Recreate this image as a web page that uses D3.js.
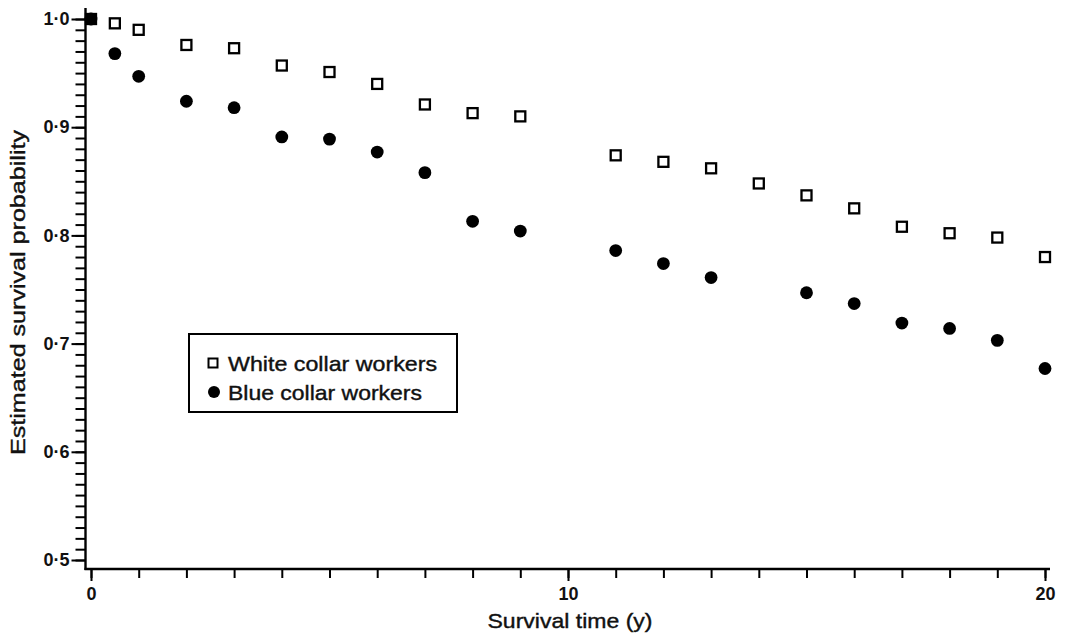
<!DOCTYPE html>
<html><head><meta charset="utf-8">
<script src="https://cdn.jsdelivr.net/npm/d3@7"></script>
<style>body{margin:0;background:#fff}</style>
</head><body><svg id="c" width="1066" height="636"></svg>
<script>
const whiteYears = [0,0.5,1,2,3,4,5,6,7,8,9,11,12,13,14,15,16,17,18,19,20];
const whiteSurvival = [1.0,0.996,0.990,0.976,0.973,0.957,0.951,0.940,0.921,0.913,0.910,0.874,0.868,0.862,0.848,0.837,0.825,0.808,0.802,0.798,0.780];
const blueYears = [0,0.5,1,2,3,4,5,6,7,8,9,11,12,13,15,16,17,18,19,20];
const blueSurvival = [1.0,0.968,0.947,0.924,0.918,0.891,0.889,0.877,0.858,0.813,0.804,0.786,0.774,0.761,0.747,0.737,0.719,0.714,0.703,0.677];
const xTickValues = [0,10,20];
const xMinorTicks = d3.range(0,21,1);
const yTickValues = [0.5,0.6,0.7,0.8,0.9,1.0];
const yMinorTicks = d3.range(50,101,1).map(d=>d/100);
const legendLabels = ["White collar workers","Blue collar workers"];
const xTitle = "Survival time (y)";
const yTitle = "Estimated survival probability";

const svg = d3.select("#c");
const font = "'Liberation Sans', Arial, Helvetica, sans-serif";
const x = d3.scaleLinear().domain([0,20]).range([91,1045]);
const y = d3.scaleLinear().domain([0.5,1.0]).range([560,19]);
const axisX = 85.5, axisY = 569;
const fmt = d => d3.format(".1f")(d).replace(".", "\u00B7");

// y axis
const gy = svg.append("g").attr("transform",`translate(${axisX},0)`);
gy.append("g").call(d3.axisLeft(y).tickValues(yMinorTicks).tickSize(10).tickFormat("").tickSizeOuter(0))
  .call(g=>g.select(".domain").remove());
gy.append("g").call(d3.axisLeft(y).tickValues(yTickValues).tickSize(14).tickPadding(2).tickFormat(fmt).tickSizeOuter(0))
  .call(g=>g.select(".domain").remove());
gy.append("line").attr("x1",0).attr("x2",0).attr("y1",8).attr("y2",axisY+1).attr("stroke","#000").attr("stroke-width",2.4);

// x axis
const gx = svg.append("g").attr("transform",`translate(0,${axisY})`);
gx.append("g").call(d3.axisBottom(x).tickValues(xMinorTicks).tickSize(9).tickFormat("").tickSizeOuter(0))
  .call(g=>g.select(".domain").remove());
gx.append("g").call(d3.axisBottom(x).tickValues(xTickValues).tickSize(12).tickPadding(6).tickFormat(d3.format("d")).tickSizeOuter(0))
  .call(g=>g.select(".domain").remove());
gx.append("line").attr("x1",axisX-1).attr("x2",1050).attr("y1",0).attr("y2",0).attr("stroke","#000").attr("stroke-width",2.4);

svg.selectAll(".tick line").attr("stroke","#000").attr("stroke-width",2);
svg.selectAll(".tick text").attr("font-family",font).attr("font-size",18).attr("font-weight","bold").attr("fill","#111");

// titles
svg.append("text").attr("x",570).attr("y",628).attr("text-anchor","middle")
  .attr("font-family",font).attr("font-size",21).attr("fill","#111").attr("stroke","#111").attr("stroke-width",0.4)
  .attr("textLength",165).attr("lengthAdjust","spacingAndGlyphs").text(xTitle);
svg.append("text").attr("transform","translate(25,292.5) rotate(-90)").attr("text-anchor","middle")
  .attr("font-family",font).attr("font-size",21).attr("fill","#111").attr("stroke","#111").attr("stroke-width",0.4)
  .attr("textLength",325).attr("lengthAdjust","spacingAndGlyphs").text(yTitle);

// points
const white = whiteYears.map((t,i)=>({t, v: whiteSurvival[i]}));
const blue = blueYears.map((t,i)=>({t, v: blueSurvival[i]}));
const sq = 10;
svg.append("g").selectAll("circle").data(blue).join("circle")
  .attr("cx",d=>x(d.t)).attr("cy",d=>y(d.v)).attr("r",6.4).attr("fill","#000");
svg.append("g").selectAll("rect").data(white).join("rect")
  .attr("x",d=>x(d.t)-sq/2).attr("y",d=>y(d.v)-sq/2).attr("width",sq).attr("height",sq)
  .attr("fill",d=>d.t===0?"#000":"#fff").attr("stroke","#000").attr("stroke-width",2.3);

// legend
const lg = svg.append("g");
lg.append("rect").attr("x",189).attr("y",334).attr("width",268).attr("height",78)
  .attr("fill","#fff").attr("stroke","#000").attr("stroke-width",2);
lg.append("rect").attr("x",208.5).attr("y",358.5).attr("width",9).attr("height",9)
  .attr("fill","#fff").attr("stroke","#000").attr("stroke-width",2);
lg.append("circle").attr("cx",214).attr("cy",392).attr("r",6).attr("fill","#000");
const legendLens = [209,194];
lg.selectAll("text").data(legendLabels).join("text")
  .attr("x",228).attr("y",(d,i)=>371+i*28.5)
  .attr("font-family",font).attr("font-size",21).attr("fill","#111").attr("stroke","#111").attr("stroke-width",0.4)
  .attr("textLength",(d,i)=>legendLens[i]).attr("lengthAdjust","spacingAndGlyphs").text(d=>d);
</script></body></html>
